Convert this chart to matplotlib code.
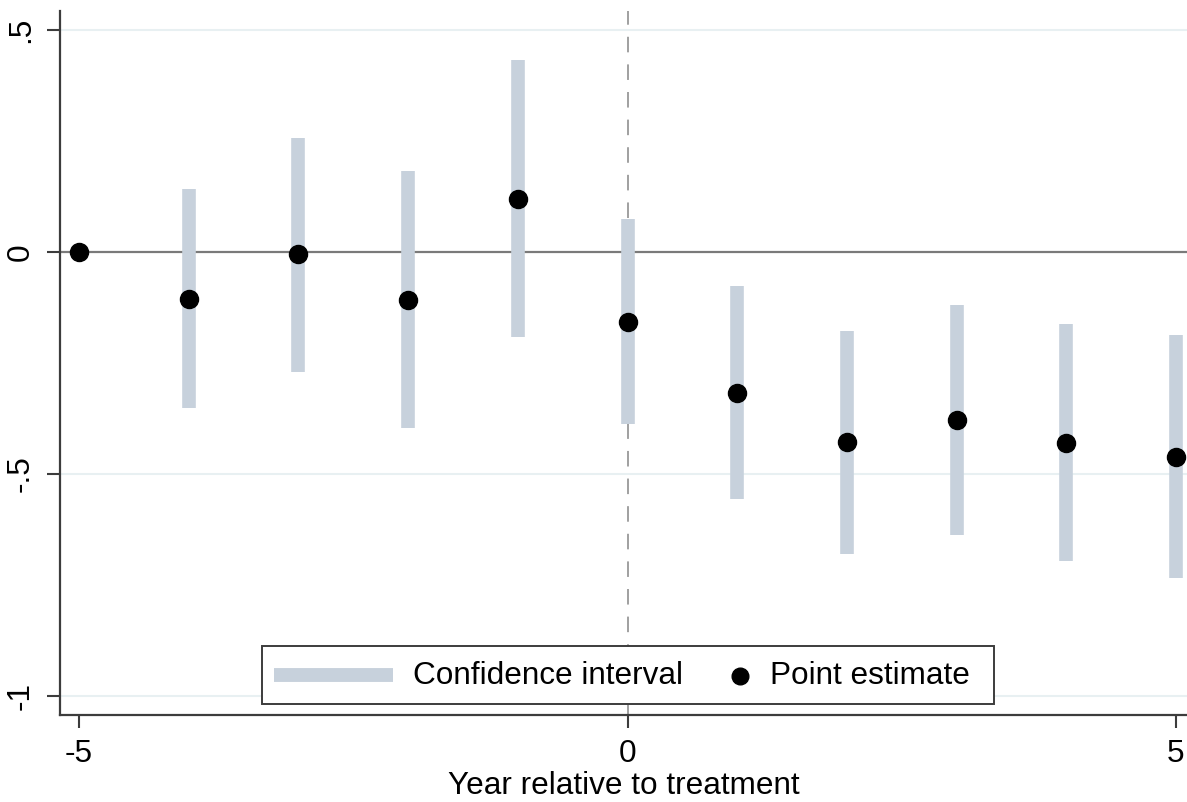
import matplotlib
matplotlib.use("Agg")
import matplotlib.pyplot as plt
from matplotlib.lines import Line2D
from matplotlib.patches import Rectangle

plt.rcParams["font.family"] = ["Liberation Sans", "DejaVu Sans"]

# event-study estimates
years = [-5, -4, -3, -2, -1, 0, 1, 2, 3, 4, 5]
point = [0.0, -0.106, -0.005, -0.107, 0.119, -0.157, -0.318, -0.429, -0.379, -0.430, -0.462]
ci_lo = [None, -0.352, -0.270, -0.396, -0.192, -0.387, -0.557, -0.680, -0.638, -0.696, -0.734]
ci_hi = [None, 0.142, 0.258, 0.182, 0.432, 0.074, -0.077, -0.177, -0.120, -0.163, -0.188]

yticks = [0.5, 0, -0.5, -1]
ytick_labels = [".5", "0", "-.5", "-1"]
xticks = [-5, 0, 5]
xtick_labels = ["-5", "0", "5"]

CI_COLOR = "#c7d1dc"
AXIS_COLOR = "#3c3c3c"
GRID_COLOR = "#e8f0f2"
FS = 22.7

W, H = 1187, 802
fig = plt.figure(figsize=(W / 100, H / 100), dpi=100)
ax = fig.add_axes([60 / W, (H - 715) / H, 1 - 60 / W, (715 - 11) / H])

# grid + reference lines
for yv in yticks:
    if yv != 0:
        ax.axhline(yv, color=GRID_COLOR, lw=1.5, zorder=0)
ax.axhline(0, color="#7a7a7a", lw=1.6, zorder=1)
ax.axvline(0, color="#a0a0a0", lw=1.4, ls=(0, (8, 6.2)), zorder=1)

# confidence intervals
for x, lo, hi in zip(years, ci_lo, ci_hi):
    if lo is None:
        continue
    ax.vlines(x, lo, hi, color=CI_COLOR, lw=9.8, capstyle="butt", zorder=2)

# point estimates
ax.plot(years, point, "o", color="black", ms=13, zorder=3, lw=0)

ax.set_xlim(-5.173, 5.10)
ax.set_ylim(-1.043, 0.543)
ax.set_xticks(xticks)
ax.set_xticklabels(xtick_labels, fontsize=FS)
ax.set_yticks(yticks)
ax.set_yticklabels(ytick_labels, fontsize=FS, rotation=90, va="center")
ax.tick_params(axis="both", length=9.5, width=1.5, color=AXIS_COLOR, pad=8)
ax.set_xlabel("Year relative to treatment", fontsize=FS, labelpad=1)

for side in ["top", "right"]:
    ax.spines[side].set_visible(False)
for side in ["left", "bottom"]:
    ax.spines[side].set_color(AXIS_COLOR)
    ax.spines[side].set_linewidth(1.6)

# legend box drawn by hand to match the Stata layout
def fx(px):
    return px / W


def fy(py):
    return (H - py) / H


fig.patches.append(Rectangle((fx(262), fy(704)), fx(994) - fx(262), fy(646) - fy(704),
                             transform=fig.transFigure, facecolor="white",
                             edgecolor=AXIS_COLOR, lw=1.4, zorder=5))
fig.lines.append(Line2D([fx(274), fx(393)], [fy(675), fy(675)], transform=fig.transFigure,
                        color=CI_COLOR, lw=10, solid_capstyle="butt", zorder=6))
fig.text(fx(413), fy(676), "Confidence interval", fontsize=FS, va="center", ha="left", zorder=6)
fig.lines.append(Line2D([fx(740)], [fy(676)], transform=fig.transFigure, marker="o",
                        color="black", ms=12, lw=0, zorder=6))
fig.text(fx(770), fy(676), "Point estimate", fontsize=FS, va="center", ha="left", zorder=6)

fig.savefig("out.png", dpi=100)
